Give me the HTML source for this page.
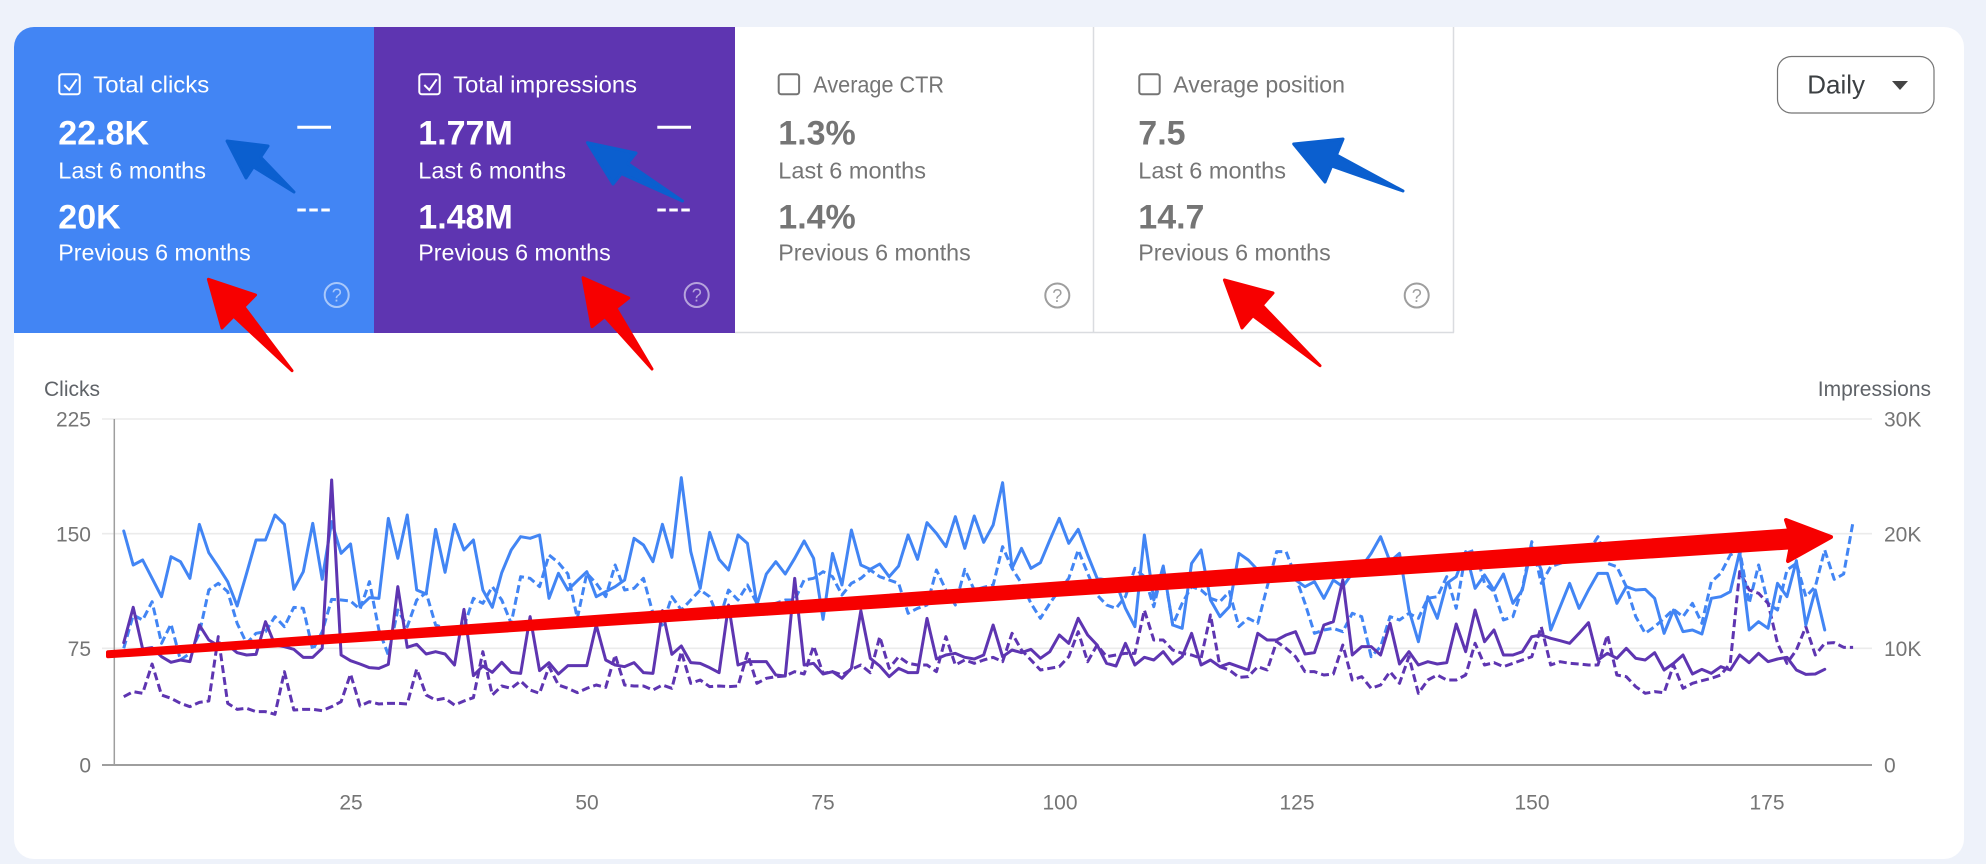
<!DOCTYPE html>
<html>
<head>
<meta charset="utf-8">
<style>
  html,body{margin:0;padding:0;background:#eef2fa;}
  svg{display:block;}
  text{font-family:"Liberation Sans", Arial, sans-serif;}
  .ln{fill:none;stroke-width:3;vector-effect:non-scaling-stroke;stroke-linejoin:round;stroke-linecap:round;}
  .dash{stroke-dasharray:8 4;stroke-linecap:butt;}
</style>
</head>
<body>
<svg width="1986" height="864" viewBox="0 0 1986 864" xmlns="http://www.w3.org/2000/svg">
  <defs>
    <clipPath id="card"><rect x="14" y="27" width="1950" height="832" rx="20"/></clipPath>
  </defs>
  <rect x="0" y="0" width="1986" height="864" fill="#eef2fa"/>
  <rect x="14" y="27" width="1950" height="832" rx="20" fill="#ffffff"/>

  <!-- tiles -->
  <g clip-path="url(#card)">
    <rect x="14" y="27" width="360" height="306" fill="#4285f4"/>
    <rect x="374" y="27" width="361" height="306" fill="#5e35b1"/>
  </g>
  <g stroke="#dadce0" stroke-width="1.5">
    <line x1="1093.5" y1="27" x2="1093.5" y2="332.5"/>
    <line x1="1453.5" y1="27" x2="1453.5" y2="332.5"/>
    <line x1="735" y1="332.5" x2="1454" y2="332.5"/>
  </g>

  <!-- Tile 1 -->
  <rect x="59.3" y="74.3" width="20.4" height="20" rx="2.5" fill="none" stroke="#fff" stroke-width="2"/>
  <polyline points="64.3,85 69.3,90 76.7,79.3" fill="none" stroke="#fff" stroke-width="2"/>
  <text x="93.3" y="92.3" font-size="23.5" fill="#fff" textLength="116" lengthAdjust="spacingAndGlyphs">Total clicks</text>
  <text x="58.3" y="144.5" font-size="34" font-weight="bold" fill="#fff">22.8K</text>
  <text x="58.3" y="178.3" font-size="23.5" fill="#fff" textLength="147.7" lengthAdjust="spacingAndGlyphs">Last 6 months</text>
  <text x="58.3" y="228.3" font-size="34" font-weight="bold" fill="#fff">20K</text>
  <text x="58.3" y="260.7" font-size="23.5" fill="#fff" textLength="192.4" lengthAdjust="spacingAndGlyphs">Previous 6 months</text>
  <line x1="297.3" y1="127.3" x2="331" y2="127.3" stroke="#fff" stroke-width="3"/>
  <line x1="297.3" y1="210" x2="331" y2="210" stroke="#fff" stroke-width="3" stroke-dasharray="8.5 3.5"/>
  <circle cx="336.7" cy="295" r="12" fill="none" stroke="rgba(255,255,255,0.55)" stroke-width="2"/>
  <text x="336.7" y="301.5" font-size="18" fill="rgba(255,255,255,0.55)" text-anchor="middle">?</text>

  <!-- Tile 2 -->
  <rect x="419.3" y="74.3" width="20.4" height="20" rx="2.5" fill="none" stroke="#fff" stroke-width="2"/>
  <polyline points="424.3,85 429.3,90 436.7,79.3" fill="none" stroke="#fff" stroke-width="2"/>
  <text x="453.3" y="92.3" font-size="23.5" fill="#fff" textLength="183.7" lengthAdjust="spacingAndGlyphs">Total impressions</text>
  <text x="418.3" y="144.5" font-size="34" font-weight="bold" fill="#fff">1.77M</text>
  <text x="418.3" y="178.3" font-size="23.5" fill="#fff" textLength="147.7" lengthAdjust="spacingAndGlyphs">Last 6 months</text>
  <text x="418.3" y="228.3" font-size="34" font-weight="bold" fill="#fff">1.48M</text>
  <text x="418.3" y="260.7" font-size="23.5" fill="#fff" textLength="192.4" lengthAdjust="spacingAndGlyphs">Previous 6 months</text>
  <line x1="657.3" y1="127.3" x2="691" y2="127.3" stroke="#fff" stroke-width="3"/>
  <line x1="657.3" y1="210" x2="691" y2="210" stroke="#fff" stroke-width="3" stroke-dasharray="8.5 3.5"/>
  <circle cx="696.7" cy="295" r="12" fill="none" stroke="rgba(255,255,255,0.55)" stroke-width="2"/>
  <text x="696.7" y="301.5" font-size="18" fill="rgba(255,255,255,0.55)" text-anchor="middle">?</text>

  <!-- Tile 3 -->
  <rect x="778.7" y="74.3" width="20.4" height="20" rx="2.5" fill="none" stroke="#757575" stroke-width="2"/>
  <text x="813.3" y="92.3" font-size="23.5" fill="#757575" textLength="130.7" lengthAdjust="spacingAndGlyphs">Average CTR</text>
  <text x="778.3" y="144.5" font-size="34" font-weight="bold" fill="#757575">1.3%</text>
  <text x="778.3" y="178.3" font-size="23.5" fill="#757575" textLength="147.7" lengthAdjust="spacingAndGlyphs">Last 6 months</text>
  <text x="778.3" y="228.3" font-size="34" font-weight="bold" fill="#757575">1.4%</text>
  <text x="778.3" y="260.7" font-size="23.5" fill="#757575" textLength="192.4" lengthAdjust="spacingAndGlyphs">Previous 6 months</text>
  <circle cx="1057.3" cy="295.5" r="12" fill="none" stroke="#9e9e9e" stroke-width="2"/>
  <text x="1057.3" y="302" font-size="18" fill="#9e9e9e" text-anchor="middle">?</text>

  <!-- Tile 4 -->
  <rect x="1139.3" y="74.3" width="20.4" height="20" rx="2.5" fill="none" stroke="#757575" stroke-width="2"/>
  <text x="1173.3" y="92.3" font-size="23.5" fill="#757575" textLength="171.7" lengthAdjust="spacingAndGlyphs">Average position</text>
  <text x="1138.3" y="144.5" font-size="34" font-weight="bold" fill="#757575">7.5</text>
  <text x="1138.3" y="178.3" font-size="23.5" fill="#757575" textLength="147.7" lengthAdjust="spacingAndGlyphs">Last 6 months</text>
  <text x="1138.3" y="228.3" font-size="34" font-weight="bold" fill="#757575">14.7</text>
  <text x="1138.3" y="260.7" font-size="23.5" fill="#757575" textLength="192.4" lengthAdjust="spacingAndGlyphs">Previous 6 months</text>
  <circle cx="1416.7" cy="295.5" r="12" fill="none" stroke="#9e9e9e" stroke-width="2"/>
  <text x="1416.7" y="302" font-size="18" fill="#9e9e9e" text-anchor="middle">?</text>

  <!-- Daily button -->
  <rect x="1777.5" y="56.5" width="156.5" height="56.5" rx="14" fill="#fff" stroke="#757575" stroke-width="1.2"/>
  <text x="1807.3" y="93.3" font-size="26" fill="#3c4043" textLength="57.7" lengthAdjust="spacingAndGlyphs">Daily</text>
  <polygon points="1892,81 1908,81 1900,90" fill="#444"/>

  <!-- Axis titles -->
  <text x="100" y="396" font-size="21" fill="#5f6368" text-anchor="end">Clicks</text>
  <text x="1931" y="396" font-size="21" fill="#5f6368" text-anchor="end">Impressions</text>

  <!-- gridlines -->
  <g stroke="#ebebeb" stroke-width="1.6">
    <line x1="102" y1="419" x2="1872" y2="419"/>
    <line x1="102" y1="533.7" x2="1872" y2="533.7"/>
    <line x1="102" y1="648.3" x2="1872" y2="648.3"/>
  </g>
  <line x1="114.3" y1="419" x2="114.3" y2="765" stroke="#9e9e9e" stroke-width="1.5"/>
  <line x1="102" y1="765" x2="1872" y2="765" stroke="#9e9e9e" stroke-width="2"/>

  <!-- tick labels -->
  <g font-size="21" fill="#757575">
    <text x="91" y="426.7" text-anchor="end">225</text>
    <text x="91" y="541.3" text-anchor="end">150</text>
    <text x="91" y="656" text-anchor="end">75</text>
    <text x="91" y="772.5" text-anchor="end">0</text>
    <text x="1884" y="426.7">30K</text>
    <text x="1884" y="541.3">20K</text>
    <text x="1884" y="656">10K</text>
    <text x="1884" y="772.5">0</text>
    <text x="351" y="809.5" text-anchor="middle">25</text>
    <text x="587" y="809.5" text-anchor="middle">50</text>
    <text x="823" y="809.5" text-anchor="middle">75</text>
    <text x="1060" y="809.5" text-anchor="middle">100</text>
    <text x="1297" y="809.5" text-anchor="middle">125</text>
    <text x="1532" y="809.5" text-anchor="middle">150</text>
    <text x="1767" y="809.5" text-anchor="middle">175</text>
  </g>

  <!-- data series -->
  <g transform="matrix(9.45 0 0 0.333333 114.3 370)">
    <polyline class="ln dash" stroke="#4285f4" points="1,835 2,735 3,750 4,695 5,820 6,762 7,870 8,850 9,790 10,660 11,640 12,665 13,760 14,820 15,790 16,785 17,740 18,770 19,712 20,715 21,840 22,785 23,688 24,690 25,693 26,718 27,635 28,780 29,855 30,720 31,770 32,690 33,668 34,765 35,775 36,790 37,770 38,685 39,700 40,650 41,690 42,760 43,620 44,625 45,650 46,555 47,578 48,612 49,745 50,610 51,640 52,680 53,585 54,660 55,655 56,625 57,730 58,765 59,680 60,720 61,690 62,660 63,680 64,750 65,660 66,690 67,645 68,700 69,735 70,700 71,690 72,690 73,630 74,625 75,605 76,620 77,675 78,640 79,625 80,600 81,620 82,630 83,640 84,730 85,715 86,705 87,600 88,660 89,705 90,598 91,660 92,652 93,645 94,530 95,595 96,640 97,700 98,745 99,700 100,660 101,625 102,540 103,610 104,675 105,705 106,715 107,680 108,595 109,620 110,710 111,590 112,765 113,700 114,650 115,660 116,685 117,695 118,665 119,770 120,745 121,760 122,650 123,545 124,545 125,620 126,700 127,790 128,780 129,775 130,785 131,730 132,740 133,860 134,830 135,740 136,750 137,730 138,745 139,685 140,680 141,620 142,715 143,550 144,540 145,640 146,665 147,750 148,740 149,655 150,515 151,640 152,590 153,580 154,570 155,560 156,545 157,500 158,580 159,590 160,650 161,740 162,790 163,770 164,745 165,718 166,740 167,700 168,760 169,635 170,610 171,555 172,540 173,700 174,585 175,700 176,720 177,600 178,580 179,680 180,650 181,540 182,628 183,612 184,455"/>
    <polyline class="ln dash" stroke="#5e35b1" points="1,980 2,965 3,970 4,882 5,975 6,985 7,1000 8,1010 9,997 10,993 11,800 12,1000 13,1018 14,1015 15,1025 16,1025 17,1033 18,905 19,1020 20,1018 21,1018 22,1022 23,1010 24,995 25,912 26,1008 27,995 28,1002 29,1000 30,1000 31,1002 32,897 33,975 34,990 35,985 36,1005 37,993 38,983 39,845 40,975 41,948 42,955 43,933 44,960 45,970 46,890 47,945 48,955 49,968 50,955 51,945 52,952 53,855 54,945 55,948 56,948 57,960 58,945 59,955 60,845 61,940 62,930 63,950 64,948 65,950 66,948 67,850 68,940 69,925 70,920 71,918 72,905 73,912 74,828 75,910 76,905 77,915 78,898 79,885 80,908 81,800 82,895 83,860 84,880 85,885 86,885 87,905 88,800 89,885 90,870 91,880 92,870 93,862 94,875 95,790 96,840 97,870 98,900 99,895 100,890 101,860 102,785 103,875 104,825 105,860 106,855 107,850 108,850 109,720 110,810 111,810 112,840 113,850 114,855 115,865 116,735 117,890 118,900 119,922 120,920 121,890 122,900 123,815 124,835 125,860 126,905 127,905 128,915 129,912 130,825 131,930 132,920 133,955 134,945 135,905 136,940 137,860 138,970 139,930 140,915 141,930 142,930 143,915 144,820 145,885 146,878 147,890 148,880 149,870 150,860 151,770 152,885 153,875 154,880 155,882 156,885 157,885 158,795 159,915 160,920 161,950 162,970 163,965 164,968 165,885 166,955 167,940 168,932 169,925 170,915 171,880 172,605 173,660 174,670 175,700 176,820 177,880 178,840 179,770 180,855 181,820 182,818 183,832 184,832"/>
    <polyline class="ln" stroke="#4285f4" points="1,483 2,585 3,570 4,625 5,680 6,560 7,575 8,625 9,463 10,548 11,590 12,635 13,708 14,610 15,510 16,510 17,435 18,463 19,658 20,605 21,460 22,628 23,455 24,550 25,522 26,710 27,683 28,685 29,445 30,565 31,435 32,660 33,672 34,478 35,607 36,463 37,540 38,510 39,660 40,712 41,608 42,540 43,500 44,505 45,495 46,685 47,610 48,660 49,632 50,605 51,680 52,665 53,650 54,630 55,505 56,525 57,575 58,463 59,562 60,323 61,545 62,655 63,487 64,568 65,600 66,495 67,520 68,705 69,612 70,575 71,612 72,565 73,513 74,565 75,748 76,550 77,645 78,480 79,585 80,598 81,582 82,620 83,588 84,495 85,568 86,458 87,490 88,530 89,440 90,535 91,438 92,517 93,465 94,338 95,595 96,535 97,595 98,578 99,510 100,445 101,520 102,478 103,555 104,625 105,630 106,638 107,715 108,770 109,495 110,690 111,588 112,765 113,775 114,580 115,540 116,690 117,740 118,710 119,550 120,570 121,600 122,620 123,620 124,625 125,630 126,650 127,635 128,685 129,630 130,650 131,610 132,590 133,550 134,500 135,575 136,550 137,720 138,815 139,680 140,745 141,640 142,620 143,545 144,655 145,615 146,660 147,612 148,700 149,660 150,530 151,600 152,780 153,710 154,640 155,715 156,660 157,610 158,610 159,700 160,650 161,660 162,658 163,685 164,790 165,720 166,785 167,780 168,792 169,685 170,680 171,665 172,545 173,780 174,755 175,775 176,640 177,680 178,572 179,765 180,660 181,780"/>
    <polyline class="ln" stroke="#5e35b1" points="1,818 2,712 3,837 4,833 5,860 6,877 7,870 8,875 9,765 10,810 11,827 12,825 13,848 14,855 15,853 16,755 17,825 18,830 19,838 20,862 21,862 22,835 23,330 24,855 25,872 26,882 27,893 28,895 29,883 30,650 31,832 32,823 33,852 34,845 35,852 36,885 37,718 38,917 39,888 40,907 41,877 42,907 43,910 44,740 45,902 46,878 47,912 48,887 49,887 50,887 51,765 52,870 53,885 54,890 55,878 56,908 57,910 58,722 59,853 60,828 61,878 62,880 63,893 64,908 65,705 66,885 67,875 68,875 69,875 70,915 71,918 72,625 73,885 74,880 75,912 76,905 77,925 78,895 79,722 80,865 81,888 82,920 83,895 84,908 85,908 86,745 87,867 88,855 89,850 90,862 91,867 92,855 93,765 94,860 95,840 96,848 97,838 98,865 99,845 100,795 101,820 102,745 103,795 104,825 105,880 106,888 107,820 108,885 109,862 110,870 111,845 112,882 113,860 114,790 115,885 116,870 117,890 118,880 119,890 120,900 121,790 122,810 123,810 124,795 125,785 126,852 127,848 128,765 129,755 130,630 131,855 132,830 133,830 134,855 135,760 136,882 137,845 138,885 139,875 140,882 141,878 142,762 143,845 144,720 145,815 146,780 147,855 148,855 149,845 150,800 151,795 152,805 153,812 154,820 155,790 156,758 157,870 158,850 159,865 160,835 161,865 162,870 163,848 164,900 165,880 166,855 167,912 168,898 169,910 170,890 171,900 172,855 173,878 174,850 175,875 176,867 177,862 178,900 179,913 180,912 181,898"/>
  </g>

  <!-- red trend arrow on chart -->
  <polygon points="108,652.3 1789.4,530.4 1786,520 1831,537 1788,561 1790.6,547.4 108,656.3" fill="#f70000" stroke="#f70000" stroke-width="4" stroke-linejoin="round"/>

  <!-- blue annotation arrows -->
  <g fill="#0b5fcf" stroke="#0b5fcf" stroke-width="3" stroke-linejoin="round">
    <polygon points="294,192 260.6,157.2 268,146 227,141 246,178 253.4,166.8"/>
    <polygon points="682.5,201 627.6,163.4 636,153 587.5,142.7 613,184 621.4,173.6"/>
    <polygon points="1403,191 1336.4,155 1343,139 1293.7,144 1325,182 1331.6,166"/>
  </g>
  <!-- red annotation arrows -->
  <g fill="#f70000" stroke="#f70000" stroke-width="3" stroke-linejoin="round">
    <polygon points="292,370.7 243.9,306.8 255.5,295 208.4,279.3 222,328 233.6,316.2"/>
    <polygon points="652,369 615.9,308.1 628.7,298 583,277.7 592,326.7 604.8,316.6"/>
    <polygon points="1320,365.7 1262.2,305.3 1273,293 1224.4,280 1242,328 1252.8,315.7"/>
  </g>
</svg>
</body>
</html>
